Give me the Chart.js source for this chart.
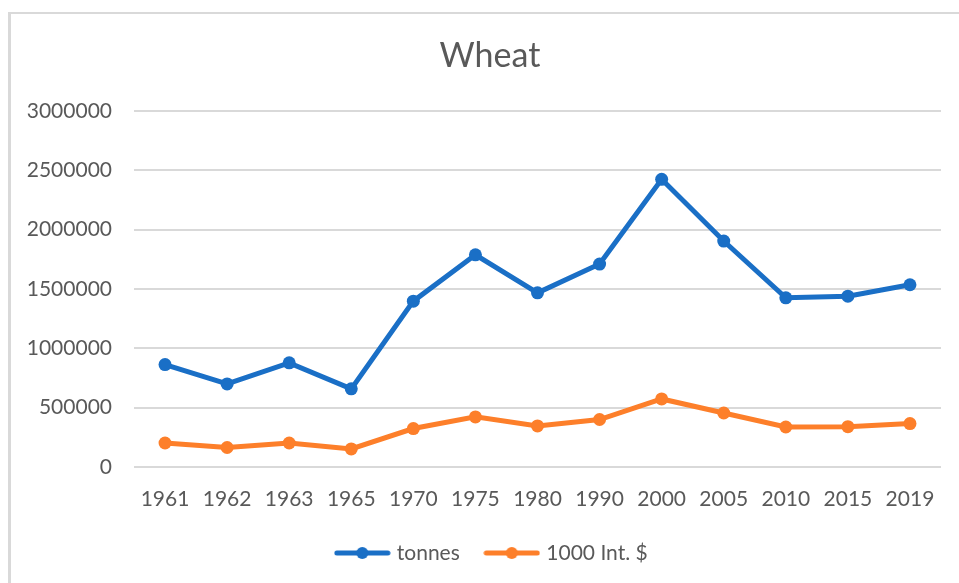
<!DOCTYPE html>
<html>
<head>
<meta charset="utf-8">
<title>Wheat</title>
<script src="https://cdn.jsdelivr.net/npm/chart.js"></script>
<style>
    html, body { margin: 0; padding: 0; background: #fff; overflow: hidden; }
    #frame {
        position: absolute; left: 8px; top: 12px; width: 2000px; height: 2000px;
        border-left: 3px solid #d9d9d9; border-top: 2px solid #d9d9d9;
    }
    #wheatChart { position: absolute; left: 0; top: 0; }
</style>
</head>
<body>
<div id="frame"></div>
<canvas id="wheatChart" width="959" height="583"></canvas>
<script>
// נתוני הגרף - נקראו מהתמונה
const years = ['1961', '1962', '1963', '1965', '1970', '1975', '1980', '1990', '2000', '2005', '2010', '2015', '2019'];
const tonnes = [863000, 700000, 877000, 658000, 1397000, 1787000, 1467000, 1709000, 2423000, 1903000, 1425000, 1439000, 1535000];
const intDollars = [202000, 164000, 202000, 152000, 324000, 422000, 346000, 400000, 573000, 455000, 337000, 340000, 366000];
const yTicks = [0, 500000, 1000000, 1500000, 2000000, 2500000, 3000000];

const BLUE = '#1a6fc6';
const ORANGE = '#fd7f2a';
const TEXT = '#595959';
const FONT = 'Lato';

// סמל מקרא בסגנון אקסל: קו עם נקודה באמצע
function legendIcon(color) {
    const c = document.createElement('canvas');
    c.width = 57;
    c.height = 14;
    const g = c.getContext('2d');
    g.strokeStyle = color;
    g.lineWidth = 5;
    g.lineCap = 'round';
    g.beginPath();
    g.moveTo(3, 7);
    g.lineTo(54, 7);
    g.stroke();
    g.fillStyle = color;
    g.beginPath();
    g.arc(28.5, 7, 6, 0, Math.PI * 2);
    g.fill();
    return c;
}

// הכותרת והמקרא ממורכזים לפי מסגרת התרשים, לכן ציר ה-Y מקבל ריפוד משמאל
// ומרחיבים את אזור החיתוך של התוויות שלו עד קצה הקנבס
const labelAreaFix = {
    id: 'labelAreaFix',
    afterLayout(chart) {
        chart.scales.y.left = 0;
        chart.legend.left += 3;
        chart.legend.right += 3;
    }
};

function drawChart() {
    const ctx = document.getElementById('wheatChart').getContext('2d');
    new Chart(ctx, {
        type: 'line',
        data: {
            labels: years,
            datasets: [{
                label: 'tonnes',
                data: tonnes,
                borderColor: BLUE,
                backgroundColor: BLUE,
                borderWidth: 5,
                pointRadius: 6.5,
                pointBorderWidth: 0,
                pointBackgroundColor: BLUE,
                tension: 0
            }, {
                label: '1000 Int. $',
                data: intDollars,
                borderColor: ORANGE,
                backgroundColor: ORANGE,
                borderWidth: 5,
                pointRadius: 6.5,
                pointBorderWidth: 0,
                pointBackgroundColor: ORANGE,
                tension: 0
            }]
        },
        plugins: [labelAreaFix],
        options: {
            responsive: false,
            animation: false,
            layout: { padding: { left: 39, right: 18, top: 0, bottom: 9.5 } },
            plugins: {
                title: {
                    display: true,
                    text: 'Wheat',
                    color: TEXT,
                    font: { family: FONT, size: 34, weight: 'normal' },
                    padding: { top: 36, bottom: 34 }
                },
                legend: {
                    position: 'bottom',
                    labels: {
                        color: TEXT,
                        font: { family: FONT, size: 21 },
                        usePointStyle: true,
                        pointStyleWidth: 48,
                        padding: 28,
                        generateLabels: function (chart) {
                            const items = Chart.defaults.plugins.legend.labels.generateLabels(chart);
                            items.forEach((item, i) => {
                                item.pointStyle = legendIcon(i === 0 ? BLUE : ORANGE);
                            });
                            return items;
                        }
                    }
                },
                tooltip: { enabled: false }
            },
            scales: {
                x: {
                    offset: true,
                    grid: { display: false },
                    border: { display: false },
                    afterFit: function (scale) {
                        scale.height = 47.5;
                    },
                    ticks: {
                        color: TEXT,
                        font: { family: FONT, size: 21 },
                        padding: 12,
                        maxRotation: 0,
                        autoSkip: false
                    }
                },
                y: {
                    min: yTicks[0],
                    max: yTicks[yTicks.length - 1],
                    afterBuildTicks: function (scale) {
                        scale.ticks = yTicks.map(v => ({ value: v }));
                    },
                    afterFit: function (scale) {
                        scale.width = 95;
                    },
                    grid: { color: '#d9d9d9', lineWidth: 2, drawTicks: false },
                    border: { display: false },
                    ticks: {
                        color: TEXT,
                        font: { family: FONT, size: 21 },
                        padding: 22,
                        callback: v => String(v)
                    }
                }
            }
        }
    });
}

if (document.fonts && document.fonts.load) {
    document.fonts.load('21px Lato').then(drawChart, drawChart);
} else {
    drawChart();
}
</script>
</body>
</html>
